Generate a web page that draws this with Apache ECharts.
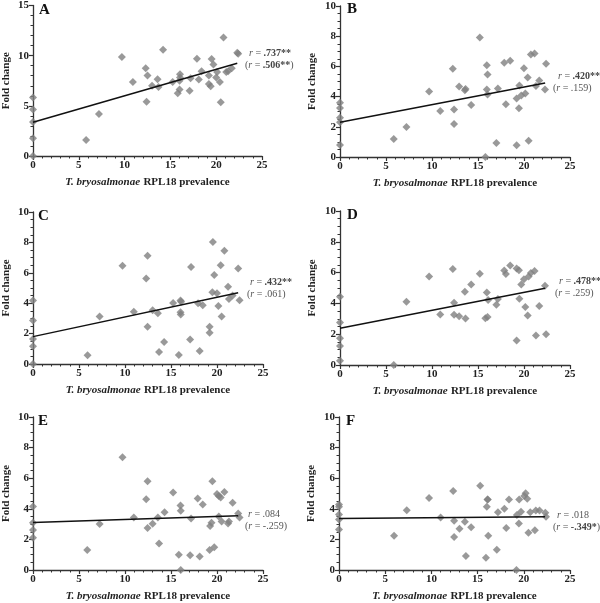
<!DOCTYPE html>
<html><head><meta charset="utf-8">
<script src="https://cdn.jsdelivr.net/npm/echarts@6/dist/echarts.min.js"></script>
<style>html,body{margin:0;padding:0;background:#fff}#c{width:600px;height:603px}</style>
</head><body><div id="c"></div>
<script>
const xA = [0,0,0,0,0,5.8,7.2,9.7,10.9,12.3,12.5,12.4,13.0,13.6,13.7,14.2,15.25,15.8,16.0,16.0,16.05,16.05,17.1,17.2,17.9,18.1,18.4,19.2,19.2,19.4,19.5,19.7,20.0,20.1,20.4,20.5,20.8,21.1,21.3,21.7,22.3,22.4];
const yA = [5.82,4.64,3.39,1.78,0,1.6,4.18,9.87,7.37,8.75,8.03,5.4,7.0,7.66,6.88,10.6,7.37,6.25,6.64,7.5,8.16,7.83,6.51,7.76,9.7,7.63,8.45,8.03,7.17,6.94,9.67,9.11,7.83,8.36,7.37,5.36,11.8,8.36,8.45,8.75,10.3,10.2];
const xB = [0,0,0,0,0,5.84,7.22,9.69,10.9,12.26,12.4,12.4,12.95,13.57,13.65,14.26,15.2,15.8,15.96,15.96,16.04,16.04,17.0,17.16,17.85,18.03,18.5,19.2,19.2,19.45,19.5,19.7,19.99,20.14,20.4,20.5,20.75,21.15,21.3,21.66,22.28,22.4];
const yB = [3.6,3.25,2.6,2.3,0.8,1.19,1.99,4.34,3.05,5.84,3.14,2.19,4.67,4.42,4.5,3.45,7.92,0,6.08,4.47,5.46,4.14,0.93,4.54,6.24,3.5,6.37,0.77,3.87,3.23,4.73,4.07,5.88,4.2,5.27,1.08,6.79,6.86,4.71,5.07,4.47,6.17];
const xC = [0,0,0,0,0,5.93,7.24,9.73,10.96,12.3,12.45,12.45,13.0,13.57,13.7,14.25,15.23,15.85,16.03,16.03,16.06,17.08,17.18,17.94,18.12,18.45,19.2,19.2,19.5,19.55,19.7,20.0,20.15,20.4,20.5,20.8,21.2,21.3,21.7,22.3,22.45,16.1];
const yC = [4.17,2.86,1.64,1.16,0,0.57,3.12,6.46,3.43,5.63,7.12,2.45,3.54,3.34,0.79,1.44,4.02,0.59,4.17,3.41,3.25,1.62,6.38,4.0,0.85,3.86,2.45,2.05,4.72,8.03,5.85,4.65,3.82,6.5,3.12,7.45,5.09,4.28,4.5,6.29,4.19,4.1];
const xD = [0,0,0,0,0,5.84,7.22,9.69,10.9,12.26,12.4,12.4,12.95,13.57,13.64,14.26,15.2,15.8,15.96,16.04,16.1,17.0,17.16,17.85,18.03,18.5,19.2,19.2,19.45,19.5,19.7,19.99,20.14,20.4,20.5,20.75,21.15,21.3,21.66,22.28,22.4];
const yD = [4.43,2.76,1.74,1.24,0.28,0,4.11,5.74,3.28,6.24,4.04,3.26,3.17,4.76,3.02,5.22,5.93,3.04,4.7,3.11,4.22,3.91,4.28,6.13,5.91,6.46,1.59,6.26,6.15,4.3,5.22,5.57,3.76,3.22,5.74,5.98,6.11,1.91,3.83,5.15,2.0];
const xE = [0,0,0,0,5.9,7.24,9.73,10.96,12.3,12.45,12.45,13.0,13.57,13.7,14.3,15.23,15.85,16.03,16.06,16.06,17.08,17.18,17.9,18.12,18.45,19.2,19.25,19.4,19.5,19.7,20.0,20.2,20.4,20.2,20.5,20.8,21.2,21.3,21.7,22.3,22.45];
const yE = [4.15,3.09,2.61,2.11,1.3,3.0,7.37,3.43,4.63,5.8,2.74,3.02,3.43,1.74,3.78,5.07,1.0,4.22,3.87,0,0.96,3.37,4.67,0.89,4.28,1.3,2.87,3.09,5.8,1.48,4.96,4.83,4.74,3.5,3.17,5.09,3.04,3.17,4.39,3.7,3.43];
const xF = [0,0,0,0,0,5.96,7.33,9.75,11.0,12.36,12.46,12.46,13.04,13.62,13.73,14.3,15.28,15.9,16.0,16.07,16.1,16.15,17.08,17.2,17.9,18.1,18.4,19.2,19.25,19.47,19.5,19.7,20.05,20.2,20.37,20.5,20.7,21.2,21.3,21.7,22.33,22.4];
const yF = [4.28,4.13,3.63,3.3,2.65,2.24,3.91,4.7,3.43,5.17,3.22,2.15,2.7,3.15,0.91,2.8,5.5,0.8,4.13,4.6,4.6,2.24,1.33,3.78,4.0,2.74,4.6,0,3.6,3.04,4.6,3.8,4.83,5.02,4.65,2.43,3.78,2.6,3.89,3.89,3.74,3.48];

const fitX = [0, 22.3];
const fitStart = [3.36, 2.3, 1.8, 2.38, 3.1, 3.37];
const fitEnd = [9.24, 4.9, 4.69, 4.98, 3.55, 3.48];

const panelLetters = ['A','B','C','D','E','F'];
const yMax = [15, 10, 10, 10, 10, 10];
const yStep = [5, 2, 2, 2, 2, 2];
const rMain = ['.737**', '.420**', '.432**', '.478**', '.084', '.018'];
const rMainBold = [true, true, true, true, false, false];
const rPar = ['.506**', '.159', '.061', '.259', '-.259', '-.349*'];
const rParBold = [true, false, false, false, false, true];
const xTitleItalic = 'T. bryosalmonae';
const xTitleRest = 'RPL18 prevalence';
const yTitle = 'Fold change';

const xs = [xA,xB,xC,xD,xE,xF];
const ys = [yA,yB,yC,yD,yE,yF];

const SERIF = '"Liberation Serif","Times New Roman",serif';
const grids = [
  {left:32, top:4, width:230, height:152},
  {left:340, top:6, width:230, height:151},
  {left:32, top:212, width:231, height:152},
  {left:340, top:211, width:230, height:154},
  {left:32, top:417, width:231, height:154},
  {left:339, top:417, width:231, height:154}
];
const yNameGap = [21, 22, 21, 22, 21, 22];
const letterPos = [[39,3],[347,2],[38,209],[347,208],[38,414],[346,414]];
const annPos = [[249,53,245,65],[558,76,553,88],[250,282,247,294],[559,281,555,293],[248,514,245,526],[557,515,553,527]];

const axisColor = '#333';
const xAxes = [], yAxes = [], series = [], graphics = [];
for (let i = 0; i < 6; i++) {
  xAxes.push({
    gridIndex: i, type: 'value', min: 0, max: 25, interval: 5,
    axisLine: {show: true, lineStyle: {color: axisColor, width: 1.3}},
    axisTick: {show: true, length: 4, lineStyle: {color: axisColor, width: 1.2}},
    minorTick: {show: true, splitNumber: 5, length: 2.5, lineStyle: {color: axisColor}},
    splitLine: {show: false},
    axisLabel: {fontFamily: SERIF, fontWeight: 'bold', fontSize: 11, color: '#222', margin: 4},
    name: '{i|' + xTitleItalic + '} {b|' + xTitleRest + '}',
    nameLocation: 'middle', nameGap: 20,
    nameTextStyle: {rich: {
      i: {fontFamily: SERIF, fontStyle: 'italic', fontWeight: 'bold', fontSize: 11, color: '#222'},
      b: {fontFamily: SERIF, fontWeight: 'bold', fontSize: 11, color: '#222'}
    }}
  });
  yAxes.push({
    gridIndex: i, type: 'value', min: 0, max: yMax[i], interval: yStep[i],
    axisLine: {show: true, lineStyle: {color: axisColor, width: 1.3}},
    axisTick: {show: true, length: 4, lineStyle: {color: axisColor, width: 1.2}},
    minorTick: {show: true, splitNumber: yStep[i] === 5 ? 5 : 4, length: 2.5, lineStyle: {color: axisColor}},
    splitLine: {show: false},
    axisLabel: {fontFamily: SERIF, fontWeight: 'bold', fontSize: 11, color: '#222', margin: 4},
    name: yTitle, nameLocation: 'middle', nameGap: yNameGap[i],
    nameTextStyle: {fontFamily: SERIF, fontWeight: 'bold', fontSize: 11, color: '#222'}
  });
  series.push({
    type: 'scatter', xAxisIndex: i, yAxisIndex: i, clip: false,
    symbol: 'diamond', symbolSize: [8, 8],
    itemStyle: {color: '#7f7f7f'},
    data: xs[i].map((x, k) => [x, ys[i][k]]),
    z: 2
  });
  series.push({
    type: 'line', xAxisIndex: i, yAxisIndex: i, symbol: 'none',
    lineStyle: {color: '#111', width: 1.5},
    data: [[fitX[0], fitStart[i]], [fitX[1], fitEnd[i]]],
    z: 3
  });
  graphics.push({
    type: 'text', left: letterPos[i][0], top: letterPos[i][1],
    style: {text: panelLetters[i], font: 'bold 15px ' + SERIF, fill: '#111'}
  });
  const rich = {
    i: {fontFamily: SERIF, fontStyle: 'italic', fontSize: 10, fill: '#555', color: '#555'},
    n: {fontFamily: SERIF, fontSize: 10, fill: '#555', color: '#555'},
    b: {fontFamily: SERIF, fontWeight: 'bold', fontSize: 10, fill: '#444', color: '#444'}
  };
  const t1 = '{i|r}{n| = }{' + (rMainBold[i] ? 'b' : 'n') + '|' + rMain[i] + '}';
  const t2 = '{n|(}{i|r}{n| = }{' + (rParBold[i] ? 'b' : 'n') + '|' + rPar[i] + '}{n|)}';
  graphics.push({type: 'text', x: annPos[i][0], y: annPos[i][1],
    style: {text: t1, rich: rich, verticalAlign: 'middle', font: '10px ' + SERIF}});
  graphics.push({type: 'text', x: annPos[i][2], y: annPos[i][3],
    style: {text: t2, rich: rich, verticalAlign: 'middle', font: '10px ' + SERIF}});
}

const chart = echarts.init(document.getElementById('c'), null, {renderer: 'canvas'});
chart.setOption({
  animation: false,
  backgroundColor: '#fff',
  grid: grids,
  xAxis: xAxes,
  yAxis: yAxes,
  series: series,
  graphic: graphics
});
</script></body></html>
